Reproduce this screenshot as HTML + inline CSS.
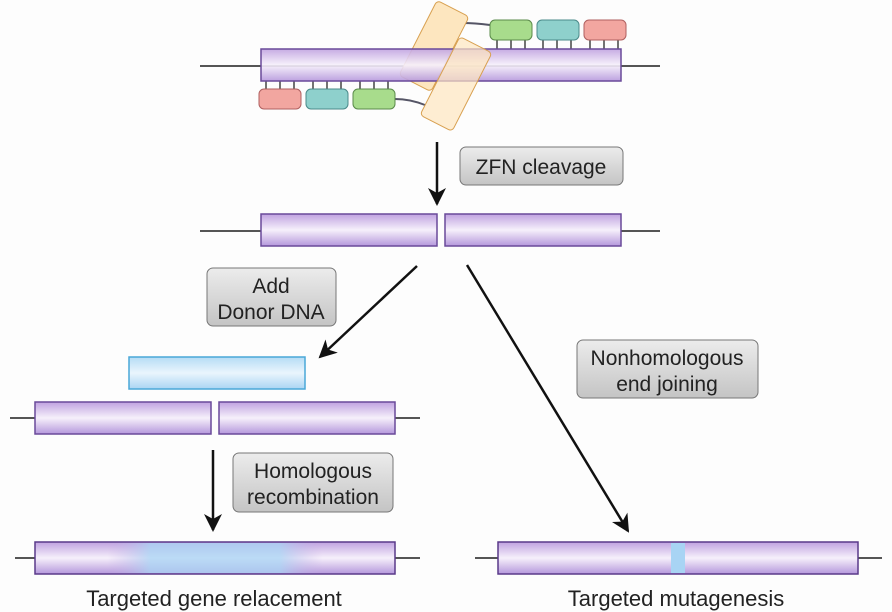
<!DOCTYPE html>
<html><head><style>body{margin:0;background:#fdfdfd}svg{display:block}</style></head><body>
<svg width="892" height="612" viewBox="0 0 892 612" xmlns="http://www.w3.org/2000/svg" font-family="Liberation Sans, sans-serif">
<defs>
<linearGradient id="pur" x1="0" y1="0" x2="0" y2="1"><stop offset="0" stop-color="#c0a2e0"/><stop offset="0.5" stop-color="#f6f0fb"/><stop offset="1" stop-color="#b598dc"/></linearGradient>
<linearGradient id="blu" x1="0" y1="0" x2="0" y2="1"><stop offset="0" stop-color="#b5dcf5"/><stop offset="0.5" stop-color="#eaf5fd"/><stop offset="1" stop-color="#aad5f3"/></linearGradient>
<linearGradient id="gr" x1="0" y1="0" x2="0" y2="1"><stop offset="0" stop-color="#ececec"/><stop offset="1" stop-color="#c4c4c4"/></linearGradient>
<linearGradient id="mix" x1="0" y1="0" x2="1" y2="0"><stop offset="0.2" stop-color="#c4a8e2" stop-opacity="0"/><stop offset="0.32" stop-color="#a8d4f4" stop-opacity="0.75"/><stop offset="0.68" stop-color="#a8d4f4" stop-opacity="0.75"/><stop offset="0.8" stop-color="#c4a8e2" stop-opacity="0"/></linearGradient>
<marker id="ah" markerWidth="18" markerHeight="18" refX="16" refY="9" orient="auto" markerUnits="userSpaceOnUse" viewBox="0 0 18 18"><path d="M0,0 L18,9 L0,18 L5,9z" fill="#111"/></marker>
</defs>
<g stroke="#555" stroke-width="2">
<line x1="200" y1="66" x2="660" y2="66"/>
<line x1="200" y1="231" x2="261" y2="231"/><line x1="621" y1="231" x2="660" y2="231"/>
<line x1="10" y1="418" x2="35" y2="418"/><line x1="395" y1="418" x2="420" y2="418"/>
<line x1="15" y1="558" x2="420" y2="558"/>
<line x1="475" y1="558" x2="882" y2="558"/>
</g>
<g stroke="#444" stroke-width="1.5">
<line x1="497" y1="40" x2="497" y2="49"/><line x1="511" y1="40" x2="511" y2="49"/><line x1="525" y1="40" x2="525" y2="49"/>
<line x1="543" y1="40" x2="543" y2="49"/><line x1="557" y1="40" x2="557" y2="49"/><line x1="571" y1="40" x2="571" y2="49"/>
<line x1="590" y1="40" x2="590" y2="49"/><line x1="604" y1="40" x2="604" y2="49"/><line x1="618" y1="40" x2="618" y2="49"/>
<line x1="266" y1="81" x2="266" y2="89"/><line x1="280" y1="81" x2="280" y2="89"/><line x1="294" y1="81" x2="294" y2="89"/>
<line x1="313" y1="81" x2="313" y2="89"/><line x1="327" y1="81" x2="327" y2="89"/><line x1="341" y1="81" x2="341" y2="89"/>
<line x1="360" y1="81" x2="360" y2="89"/><line x1="374" y1="81" x2="374" y2="89"/><line x1="388" y1="81" x2="388" y2="89"/>
</g>
<path d="M462,23 Q475,23 490,25" stroke="#556" stroke-width="2" fill="none"/>
<path d="M395,99 Q410,99 425,105" stroke="#556" stroke-width="2" fill="none"/>
<rect x="490" y="20" width="42" height="20" rx="5" fill="#a8dc8c" stroke="#5a8a4a"/>
<rect x="537" y="20" width="42" height="20" rx="5" fill="#8ed0cc" stroke="#4a8a8a"/>
<rect x="584" y="20" width="42" height="20" rx="5" fill="#f2a6a0" stroke="#b06060"/>
<rect x="259" y="89" width="42" height="20" rx="5" fill="#f2a6a0" stroke="#b06060"/>
<rect x="306" y="89" width="42" height="20" rx="5" fill="#8ed0cc" stroke="#4a8a8a"/>
<rect x="353" y="89" width="42" height="20" rx="5" fill="#a8dc8c" stroke="#5a8a4a"/>
<rect x="416" y="4" width="36" height="84" rx="4" fill="#fde6bf" stroke="#d8a050" transform="rotate(27 434 46)"/>
<rect x="261" y="49" width="360" height="32" fill="url(#pur)" stroke="#6a4a9a" stroke-width="1.5" fill-opacity="0.9"/>
<rect x="438" y="40" width="36" height="88" rx="4" fill="#fde6bf" fill-opacity="0.7" stroke="#d8a050" transform="rotate(27 456 84)"/>
<rect x="261" y="214" width="176" height="32" fill="url(#pur)" stroke="#6a4a9a" stroke-width="1.5"/>
<rect x="445" y="214" width="176" height="32" fill="url(#pur)" stroke="#6a4a9a" stroke-width="1.5"/>
<rect x="129" y="357" width="176" height="32" fill="url(#blu)" stroke="#4aa8d8" stroke-width="1.5"/>
<rect x="35" y="402" width="176" height="32" fill="url(#pur)" stroke="#6a4a9a" stroke-width="1.5"/>
<rect x="219" y="402" width="176" height="32" fill="url(#pur)" stroke="#6a4a9a" stroke-width="1.5"/>
<rect x="35" y="542" width="360" height="32" fill="url(#pur)" stroke="#5a3a8a" stroke-width="1.5"/>
<rect x="35.7" y="543" width="358.6" height="30" fill="url(#mix)"/>
<rect x="498" y="542" width="360" height="32" fill="url(#pur)" stroke="#5a3a8a" stroke-width="1.5"/>
<rect x="671" y="543" width="14" height="30" fill="#a8d4f4"/>
<g stroke="#111" stroke-width="2.5" marker-end="url(#ah)">
<line x1="437" y1="142" x2="437" y2="204"/>
<line x1="417" y1="266" x2="320" y2="357"/>
<line x1="467" y1="265" x2="628" y2="531"/>
<line x1="213" y1="450" x2="213" y2="530"/>
</g>
<g fill="url(#gr)" stroke="#777" stroke-width="1">
<rect x="460" y="147" width="163" height="38" rx="6"/>
<rect x="207" y="268" width="129" height="58" rx="6"/>
<rect x="577" y="340" width="181" height="58" rx="6"/>
<rect x="233" y="453" width="160" height="59" rx="6"/>
</g>
<g font-size="21" fill="#222" text-anchor="middle">
<text x="541" y="174">ZFN cleavage</text>
<text x="271" y="293">Add</text><text x="271" y="319">Donor DNA</text>
<text x="667" y="365">Nonhomologous</text><text x="667" y="391">end joining</text>
<text x="313" y="478">Homologous</text><text x="313" y="504">recombination</text>
<text x="214" y="606" font-size="22">Targeted gene relacement</text>
<text x="676" y="606" font-size="22">Targeted mutagenesis</text>
</g>
</svg>
</body></html>
